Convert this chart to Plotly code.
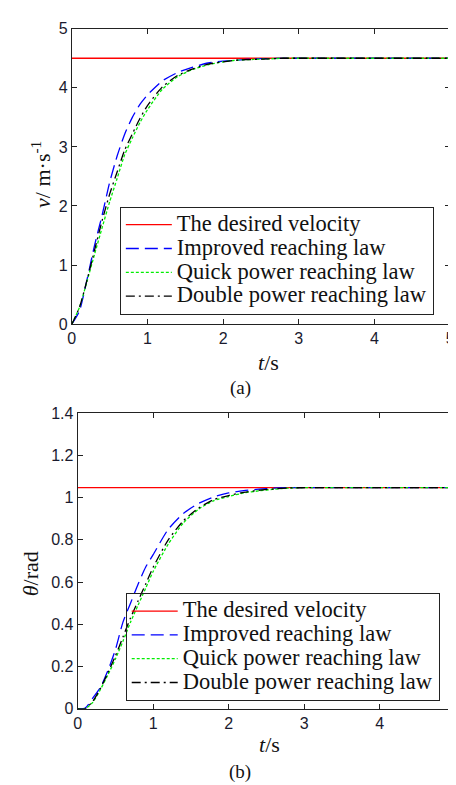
"""Velocity and angle responses under three reaching laws (two stacked panels)."""

import plotly.graph_objects as go

# ---- data ----
t = [0, 0.1, 0.2, 0.3, 0.4, 0.5, 0.6, 0.7, 0.8, 0.9, 1.0, 1.2, 1.4, 1.6,
     1.8, 2.0, 2.2, 2.4, 2.6, 2.8, 3.0, 5.0]

v_desired = [4.5] * len(t)
v_improved = [0, 0.22, 0.75, 1.33, 1.84, 2.40, 2.85, 3.22, 3.50, 3.72, 3.88,
              4.12, 4.26, 4.35, 4.42, 4.45, 4.47, 4.49, 4.495, 4.5, 4.5, 4.5]
v_quick = [0, 0.28, 0.72, 1.18, 1.63, 2.07, 2.47, 2.87, 3.15, 3.41, 3.63,
           3.98, 4.19, 4.31, 4.39, 4.44, 4.47, 4.48, 4.49, 4.5, 4.5, 4.5]
v_double = [0, 0.28, 0.74, 1.25, 1.75, 2.20, 2.58, 2.95, 3.22, 3.48, 3.70,
            4.02, 4.21, 4.32, 4.40, 4.44, 4.47, 4.48, 4.49, 4.5, 4.5, 4.5]

th_desired = [1.047] * len(t)
th_improved = [0, 0.003, 0.05, 0.10, 0.18, 0.28, 0.41, 0.50, 0.59, 0.67, 0.73,
               0.85, 0.925, 0.972, 1.003, 1.022, 1.033, 1.04, 1.045, 1.047, 1.047, 1.047]
th_quick = [0, 0.0, 0.03, 0.09, 0.16, 0.235, 0.32, 0.41, 0.49, 0.57, 0.65,
            0.78, 0.88, 0.945, 0.985, 1.005, 1.022, 1.032, 1.04, 1.045, 1.047, 1.047]
th_double = [0, 0.0, 0.035, 0.095, 0.17, 0.25, 0.34, 0.43, 0.51, 0.59, 0.67,
             0.80, 0.89, 0.95, 0.99, 1.01, 1.025, 1.035, 1.041, 1.046, 1.047, 1.047]

names = ["The desired velocity", "Improved reaching law",
         "Quick power reaching law", "Double power reaching law"]

W, H = 456, 785
SERIF = "Liberation Serif, Times New Roman, serif"
SANS = "Liberation Sans, Arial, sans-serif"

styles = [
    dict(color="#ff0000", width=1.3),
    dict(color="#0000ff", width=1.3, dash="13px,6px"),
    dict(color="#00ee00", width=1.3, dash="3px,2px"),
    dict(color="#000000", width=1.3, dash="9px,4px,2px,4px"),
]

fig = go.Figure()

panels = [
    (("x", "y", "legend"), [v_desired, v_improved, v_quick, v_double]),
    (("x2", "y2", "legend2"), [th_desired, th_improved, th_quick, th_double]),
]
for (xa, ya, lg), series in panels:
    for name, ys, st in zip(names, series, styles):
        fig.add_trace(go.Scatter(
            x=t, y=ys, mode="lines",
            # bigger glyphs than the legend's row height, like the original
            name=f'<span style="font-size:22.5px">{name}</span>',
            line=dict(shape="spline", smoothing=0.6, **st),
            xaxis=xa, yaxis=ya, legend=lg,
        ))


def px_x(p):
    return p / W


def px_y(p):
    return 1 - p / H


axis_common = dict(
    showgrid=False, zeroline=False, showline=True, mirror="allticks",
    linecolor="#222222", linewidth=1, ticks="inside", ticklen=5,
    tickcolor="#222222", ticklabeloverflow="allow",
    tickfont=dict(family=SANS, size=16, color="#1a1a2e"),
)

legend_common = dict(
    font=dict(family=SERIF, size=16, color="#111111"),
    bgcolor="rgba(0,0,0,0)", bordercolor="#222222", borderwidth=1,
    xanchor="left", yanchor="top", tracegroupgap=0, itemwidth=46,
)

fig.update_layout(
    width=W, height=H,
    margin=dict(l=0, r=0, t=0, b=0),
    paper_bgcolor="white", plot_bgcolor="white",
    xaxis=dict(domain=[px_x(61), px_x(447)], range=[0, 5], dtick=1,
               anchor="y", **axis_common),
    yaxis=dict(domain=[px_y(315), px_y(13)], range=[0, 5], dtick=1,
               anchor="x", **axis_common),
    xaxis2=dict(domain=[px_x(67), px_x(452)], range=[0, 5], dtick=1,
                anchor="y2", **axis_common),
    yaxis2=dict(domain=[px_y(708), px_y(406)], range=[0, 1.4], dtick=0.2,
                anchor="x2", **axis_common),
    legend=dict(x=px_x(110), y=px_y(195), **legend_common),
    legend2=dict(x=px_x(116), y=px_y(590), **legend_common),
)

texts = [
    ("<i>v</i>/ m·s<sup>-1</sup>", 30, 162, -90, 22),
    ("<i>t</i>/s", 262, 354, 0, 22),
    ("(a)", 233, 380, 0, 19),
    ("<i>θ</i>/rad", 19, 570, -90, 22),
    ("<i>t</i>/s", 263, 745, 0, 22),
    ("(b)", 233, 773, 0, 19),
]
for txt, x, y, ang, size in texts:
    fig.add_annotation(
        text=txt, x=px_x(x), y=px_y(y), xref="paper", yref="paper",
        showarrow=False, textangle=ang, xanchor="center", yanchor="middle",
        font=dict(family=SERIF, size=size, color="#111111"),
    )

fig.write_html("out.html")
